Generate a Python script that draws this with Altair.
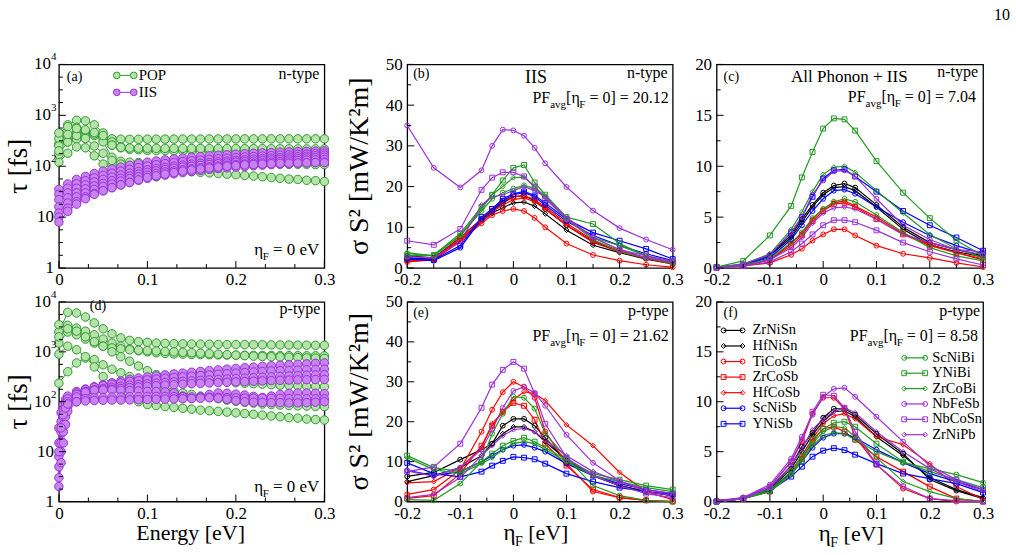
import altair as alt
import pandas as pd

FONT = "Liberation Serif"

NAMES = ["ZrNiSn", "HfNiSn", "TiCoSb", "ZrCoSb", "HfCoSb", "ScNiSb", "YNiSb",
         "ScNiBi", "YNiBi", "ZrCoBi", "NbFeSb", "NbCoSn", "ZrNiPb"]
COLORS = ["#000000", "#000000", "#ff0000", "#ff0000", "#ff0000", "#0000ff", "#0000ff",
          "#229a22", "#229a22", "#229a22", "#9b30d9", "#9b30d9", "#9b30d9"]
SHAPES = ["circle", "diamond", "circle", "square", "diamond", "circle", "square",
          "circle", "square", "diamond", "circle", "square", "diamond"]

ETA = [-0.2, -0.15, -0.1, -0.06, -0.04, -0.02, 0.0, 0.02, 0.04, 0.06, 0.1, 0.15, 0.2, 0.25, 0.3]

# (b) n-type, IIS
PF_B = [
    [3.0, 2.5, 7.5, 12.0, 14.0, 16.0, 17.5, 17.8, 16.5, 14.5, 10.5, 6.5, 4.0, 2.5, 1.2],
    [2.5, 2.2, 7.0, 11.5, 13.5, 14.8, 16.0, 16.2, 15.2, 13.3, 9.3, 5.6, 3.8, 2.2, 1.0],
    [1.5, 2.0, 6.5, 11.0, 13.0, 14.0, 14.5, 14.0, 12.3, 10.0, 6.0, 3.2, 1.8, 0.8, 0.2],
    [2.0, 2.3, 7.5, 12.0, 14.5, 16.5, 17.5, 17.8, 16.8, 15.0, 11.0, 6.8, 4.2, 2.5, 1.2],
    [1.8, 2.0, 7.0, 11.5, 13.8, 15.5, 16.8, 17.2, 16.3, 14.5, 10.5, 6.3, 4.0, 2.3, 1.0],
    [2.2, 1.8, 5.0, 12.0, 14.0, 16.5, 18.0, 18.5, 17.5, 15.5, 11.5, 8.0, 5.5, 3.5, 1.8],
    [2.5, 2.0, 5.5, 12.5, 14.5, 17.0, 18.2, 18.8, 17.8, 16.0, 12.0, 8.7, 6.7, 4.7, 2.2],
    [3.5, 3.0, 8.0, 14.0, 17.0, 18.5, 19.5, 20.3, 19.5, 17.5, 12.0, 7.0, 4.0, 2.5, 1.2],
    [3.0, 3.2, 8.5, 15.0, 18.0, 21.5, 24.6, 25.3, 21.0, 18.0, 12.5, 10.8, 6.0, 3.0, 1.5],
    [3.8, 3.0, 8.0, 14.5, 18.0, 20.0, 22.2, 22.3, 20.0, 17.5, 12.0, 7.5, 5.5, 3.0, 1.3],
    [35.0, 24.6, 19.8, 24.0, 30.0, 34.0, 33.8, 32.5, 29.5, 25.7, 19.9, 14.1, 9.8, 7.0, 4.5],
    [6.7, 5.7, 9.6, 19.2, 22.2, 23.5, 23.5, 22.5, 20.0, 17.0, 12.0, 7.5, 4.5, 3.0, 1.7],
    [2.8, 2.5, 6.5, 15.5, 17.5, 18.0, 19.0, 20.0, 19.0, 17.5, 12.5, 7.5, 4.5, 2.5, 1.5],
]
# (c) n-type, all phonon + IIS
PF_C = [
    [0.1, 0.3, 1.3, 3.2, 4.8, 6.2, 7.4, 8.1, 8.3, 7.9, 6.2, 4.0, 2.5, 1.8, 1.2],
    [0.1, 0.3, 1.2, 3.0, 4.5, 6.0, 7.2, 7.9, 8.0, 7.6, 6.0, 3.8, 2.3, 1.6, 1.1],
    [0.0, 0.2, 0.5, 1.3, 1.9, 2.7, 3.3, 3.8, 3.8, 3.2, 2.2, 1.4, 1.0, 0.5, 0.1],
    [0.1, 0.2, 0.8, 2.2, 3.2, 4.6, 5.6, 6.3, 6.4, 6.0, 4.8, 3.3, 2.2, 1.5, 0.8],
    [0.1, 0.2, 0.8, 2.4, 3.4, 4.8, 5.8, 6.4, 6.6, 6.1, 5.0, 3.4, 2.3, 1.5, 0.9],
    [0.1, 0.3, 1.0, 2.8, 4.2, 5.6, 6.8, 7.6, 7.7, 7.3, 6.0, 4.5, 3.2, 2.2, 1.4],
    [0.1, 0.3, 1.2, 3.5, 5.0, 7.0, 8.8, 9.6, 9.7, 9.0, 7.5, 5.6, 4.2, 3.0, 1.7],
    [0.1, 0.3, 0.9, 2.5, 3.5, 4.9, 5.8, 6.5, 6.8, 6.5, 5.2, 3.5, 2.0, 1.2, 0.7],
    [0.1, 0.7, 3.2, 6.1, 8.9, 11.4, 13.7, 14.7, 14.6, 13.5, 10.5, 7.4, 4.9, 2.7, 1.2],
    [0.1, 0.4, 1.4, 3.8, 5.5, 7.5, 9.2, 9.9, 10.0, 9.4, 7.6, 5.4, 3.3, 1.9, 1.0],
    [0.0, 0.4, 1.3, 3.5, 5.0, 7.2, 8.6, 9.5, 9.6, 9.0, 6.8, 4.2, 2.8, 1.8, 1.3],
    [0.0, 0.2, 0.6, 1.6, 2.4, 3.3, 4.2, 4.7, 4.7, 4.5, 3.7, 2.5, 1.6, 0.9, 0.3],
    [0.0, 0.2, 0.8, 2.0, 3.0, 4.4, 5.4, 5.9, 6.0, 5.8, 4.8, 3.3, 2.5, 1.8, 1.6],
]
# (e) p-type, IIS
PF_E = [
    [6.3, 7.3, 10.5, 13.0, 14.5, 19.0, 20.7, 20.7, 19.0, 16.0, 10.0, 6.5, 4.0, 2.5, 1.5],
    [5.0, 6.5, 8.5, 11.5, 14.5, 17.0, 18.7, 18.7, 17.5, 15.0, 10.5, 6.5, 4.0, 2.5, 1.5],
    [1.8, 3.0, 8.0, 17.5, 23.0, 27.4, 30.0, 28.7, 26.0, 17.5, 9.5, 2.5, 1.0, 0.3, 0.0],
    [0.8, 1.5, 7.0, 14.0, 19.0, 22.5, 24.7, 24.0, 20.5, 14.5, 9.0, 3.0, 1.0, 0.3, 0.0],
    [4.7, 5.0, 8.5, 13.5, 19.5, 22.5, 25.5, 27.5, 27.0, 25.3, 19.2, 14.0, 7.3, 2.5, 0.5],
    [7.8, 6.5, 7.5, 10.0, 11.5, 13.0, 14.0, 14.2, 13.5, 12.5, 9.5, 6.5, 4.5, 3.0, 2.0],
    [9.7, 7.0, 6.2, 7.5, 9.0, 10.2, 11.2, 11.0, 10.6, 9.5, 7.0, 5.0, 3.5, 2.5, 1.8],
    [0.5, 0.3, 4.5, 10.0, 17.0, 22.0, 26.3, 26.0, 23.3, 17.0, 11.0, 4.0, 1.5, 0.3, 0.0],
    [11.5, 8.5, 7.5, 10.0, 12.0, 14.0, 15.2, 16.0, 15.0, 13.5, 10.5, 7.0, 5.5, 4.0, 3.0],
    [11.0, 8.0, 7.0, 9.5, 11.0, 13.0, 14.5, 15.0, 14.5, 13.0, 10.0, 6.5, 5.0, 3.5, 2.5],
    [7.7, 6.4, 8.5, 13.0, 18.0, 23.5, 27.7, 28.8, 27.2, 24.0, 16.7, 9.7, 5.2, 2.5, 1.5],
    [7.5, 8.7, 14.5, 23.5, 29.3, 33.0, 35.0, 33.3, 27.0, 19.5, 11.0, 6.5, 4.0, 2.0, 1.0],
    [1.0, 1.8, 6.0, 11.5, 14.0, 16.5, 18.0, 18.3, 17.5, 15.5, 11.5, 7.5, 5.0, 3.0, 2.0],
]
# (f) p-type, all phonon + IIS
PF_F = [
    [0.1, 0.3, 1.3, 3.6, 5.5, 6.9, 8.4, 9.3, 9.3, 8.7, 6.8, 4.8, 2.2, 1.1, 0.3],
    [0.1, 0.3, 1.2, 3.3, 5.0, 6.7, 8.0, 9.0, 9.1, 8.5, 6.5, 4.6, 2.4, 1.2, 0.4],
    [0.0, 0.4, 1.5, 4.0, 6.0, 8.8, 10.4, 10.4, 9.3, 6.5, 3.7, 1.3, 0.3, 0.0, 0.0],
    [0.0, 0.3, 1.0, 2.8, 4.3, 6.0, 7.3, 7.5, 7.0, 6.2, 4.5, 3.0, 1.5, 0.3, 0.0],
    [0.0, 0.3, 1.1, 3.0, 4.6, 6.3, 7.8, 8.6, 8.8, 8.3, 6.5, 5.7, 3.8, 1.5, 0.2],
    [0.0, 0.3, 1.2, 2.9, 4.0, 5.4, 6.4, 6.8, 6.8, 6.4, 5.2, 3.9, 2.8, 2.0, 1.2],
    [0.0, 0.3, 1.1, 2.5, 3.5, 4.5, 5.1, 5.35, 5.15, 4.7, 3.8, 2.8, 2.3, 1.8, 0.9],
    [0.0, 0.3, 1.0, 2.7, 4.0, 5.6, 6.6, 6.9, 6.8, 6.2, 5.0, 3.9, 3.3, 2.7, 1.9],
    [0.0, 0.3, 1.2, 3.0, 4.6, 6.2, 7.3, 7.9, 8.0, 7.5, 5.8, 4.0, 3.0, 2.2, 1.4],
    [0.0, 0.3, 1.0, 2.8, 4.2, 5.8, 7.0, 7.5, 7.4, 6.5, 4.4, 2.0, 1.0, 0.3, 0.0],
    [0.1, 0.4, 1.7, 4.3, 6.5, 8.7, 10.5, 11.3, 11.4, 10.5, 8.5, 6.0, 3.6, 2.2, 1.2],
    [0.0, 0.3, 1.5, 4.0, 6.2, 9.0, 10.7, 10.6, 9.4, 7.0, 3.7, 1.5, 0.3, 0.1, 0.0],
    [0.0, 0.3, 1.4, 3.6, 5.3, 7.2, 8.3, 9.0, 9.4, 8.9, 7.0, 5.0, 3.3, 2.0, 1.0],
]

E31 = [0.00, 0.01, 0.02, 0.03, 0.04, 0.05, 0.06, 0.07, 0.08, 0.09, 0.10, 0.11, 0.12, 0.13,
       0.14, 0.15, 0.16, 0.17, 0.18, 0.19, 0.20, 0.21, 0.22, 0.23, 0.24, 0.25, 0.26, 0.27,
       0.28, 0.29, 0.30]
E34 = [0.0, 0.0025, 0.005, 0.0075, 0.01, 0.02, 0.03, 0.04, 0.05, 0.06, 0.07, 0.08, 0.09,
       0.10, 0.11, 0.12, 0.13, 0.14, 0.15, 0.16, 0.17, 0.18, 0.19, 0.20, 0.21, 0.22, 0.23,
       0.24, 0.25, 0.26, 0.27, 0.28, 0.29, 0.30]

# (a) n-type relaxation times [fs]
TAU_A_POP = [
    [280, 380, 450, 470, 420, 370, 345, 340, 338, 338, 340, 340, 341, 341, 342, 342, 342, 343, 343, 343, 344, 344, 344, 344, 345, 345, 345, 345, 345, 345, 345],
    [350, 650, 800, 780, 650, 450, 300, 240, 225, 220, 218, 216, 215, 214, 213, 212, 212, 211, 211, 210, 210, 210, 209, 209, 208, 208, 208, 207, 207, 207, 206],
    [450, 600, 580, 500, 400, 330, 260, 230, 215, 210, 205, 203, 202, 201, 200, 200, 199, 199, 198, 198, 197, 197, 196, 196, 195, 195, 195, 194, 194, 194, 193],
    [250, 300, 340, 380, 430, 300, 150, 125, 120, 118, 117, 116, 116, 115, 115, 114, 114, 113, 113, 112, 112, 111, 111, 110, 110, 110, 109, 109, 109, 108, 108],
    [120, 180, 240, 230, 160, 110, 100, 95, 92, 90, 88, 86, 84, 82, 80, 78, 76, 74, 72, 70, 68, 66, 64, 62, 60, 58, 56, 55, 53, 52, 50],
    [170, 300, 400, 350, 250, 180, 130, 110, 95, 80, 68, 62, 75, 90, 100, 105, 108, 110, 112, 113, 114, 115, 116, 117, 118, 118, 119, 119, 120, 120, 120],
    [200, 420, 550, 520, 460, 400, 260, 235, 228, 226, 225, 225, 224, 224, 224, 223, 223, 223, 222, 222, 222, 221, 221, 221, 220, 220, 220, 219, 219, 219, 218],
]
TAU_A_IIS = [
    [35, 45, 55, 63, 72, 80, 88, 96, 104, 112, 120, 127, 133, 139, 145, 150, 155, 160, 164, 168, 172, 176, 180, 183, 186, 189, 192, 194, 196, 198, 200],
    [28, 37, 45, 52, 59, 66, 73, 80, 87, 94, 101, 107, 113, 118, 123, 128, 132, 136, 140, 144, 148, 152, 155, 158, 161, 164, 167, 170, 173, 176, 180],
    [22, 30, 37, 43, 49, 55, 61, 67, 73, 79, 85, 90, 95, 100, 105, 110, 114, 118, 122, 126, 130, 134, 138, 141, 144, 147, 151, 154, 157, 161, 165],
    [16, 24, 30, 36, 41, 46, 52, 58, 64, 70, 76, 81, 86, 91, 96, 100, 104, 108, 112, 116, 120, 123, 126, 129, 132, 135, 138, 141, 144, 147, 150],
    [12, 19, 25, 30, 35, 40, 45, 51, 57, 62, 67, 72, 77, 81, 85, 89, 93, 97, 101, 105, 108, 111, 114, 117, 120, 123, 126, 129, 131, 133, 135],
    [10, 15, 20, 25, 29, 33, 38, 43, 48, 53, 58, 63, 67, 71, 75, 79, 83, 87, 90, 93, 96, 99, 102, 105, 108, 110, 112, 114, 116, 118, 120],
    [8, 13, 18, 23, 28, 33, 38, 43, 48, 54, 60, 65, 70, 75, 80, 84, 88, 92, 96, 100, 103, 106, 108, 110, 112, 114, 115, 116, 117, 118, 118],
]
# (d) p-type relaxation times [fs]
TAU_D_POP = [
    [2500, 6200, 6000, 5000, 3800, 2900, 2300, 1900, 1700, 1600, 1550, 1500, 1480, 1460, 1450, 1440, 1430, 1420, 1410, 1400, 1400, 1395, 1390, 1385, 1380, 1375, 1370, 1365, 1360, 1355, 1350],
    [3500, 3400, 3000, 2600, 2200, 1800, 1500, 1300, 1150, 1050, 1000, 960, 930, 910, 900, 890, 880, 875, 870, 865, 860, 855, 850, 848, 845, 842, 840, 838, 835, 832, 830],
    [1500, 2500, 2200, 1800, 1500, 1300, 1200, 1150, 1100, 1080, 1060, 1040, 1020, 1000, 980, 960, 940, 920, 900, 880, 860, 840, 820, 810, 800, 790, 780, 770, 760, 750, 740],
    [2000, 2900, 2600, 2000, 1600, 1300, 1000, 800, 650, 520, 420, 350, 320, 300, 290, 280, 270, 262, 255, 248, 240, 235, 230, 225, 220, 215, 212, 208, 205, 202, 200],
    [235, 400, 600, 750, 700, 550, 450, 380, 320, 270, 230, 200, 180, 165, 150, 140, 130, 122, 115, 108, 102, 98, 94, 90, 88, 86, 84, 83, 82, 81, 80],
    [900, 1300, 1100, 800, 500, 320, 220, 160, 120, 100, 88, 84, 80, 77, 74, 71, 68, 66, 64, 62, 60, 58, 56, 54, 52, 50, 48, 47, 45, 44, 43],
]
TAU_D_IIS = [
    [30, 60, 90, 110, 130, 160, 180, 200, 220, 240, 260, 280, 300, 315, 330, 345, 360, 375, 390, 405, 420, 435, 450, 465, 480, 495, 510, 525, 540, 550, 560, 575, 590, 600],
    [15, 40, 70, 95, 115, 150, 175, 195, 210, 225, 240, 255, 265, 275, 285, 295, 305, 315, 325, 335, 345, 355, 365, 375, 385, 395, 405, 415, 420, 425, 430, 438, 445, 450],
    [8, 25, 50, 75, 100, 140, 160, 175, 185, 195, 205, 215, 222, 230, 237, 244, 250, 256, 262, 268, 274, 280, 286, 292, 298, 304, 310, 316, 322, 328, 334, 340, 345, 350],
    [5, 15, 35, 60, 90, 120, 145, 160, 170, 178, 185, 192, 198, 204, 210, 215, 220, 225, 230, 234, 238, 242, 246, 250, 254, 258, 262, 266, 269, 272, 275, 277, 279, 280],
    [3, 10, 25, 50, 80, 125, 155, 170, 172, 172, 170, 168, 165, 162, 160, 158, 150, 130, 118, 125, 140, 150, 148, 142, 136, 128, 122, 130, 140, 148, 150, 150, 148, 145],
    [2, 6, 15, 35, 65, 100, 115, 120, 122, 124, 125, 126, 127, 128, 128, 128, 127, 126, 125, 124, 123, 122, 121, 120, 119, 118, 118, 117, 117, 116, 116, 115, 115, 115],
    [10, 30, 55, 75, 90, 100, 104, 106, 107, 108, 108, 109, 110, 111, 112, 113, 114, 115, 116, 118, 120, 118, 112, 105, 100, 98, 97, 96, 96, 95, 95, 96, 98, 100],
]

LOG_V = [1, 10, 100, 1000, 10000]
LOG_BASE = ["1", "10", "10", "10", "10"]
LOG_EXP = ["", "", "2", "3", "4"]

POP_STROKE, POP_FILL = "#2e9b2e", "#b6e3a9"
IIS_STROKE, IIS_FILL = "#9a2fd8", "#c784ee"

ONE = pd.DataFrame({"k": [0]})
LABX = "datum.value == 0 ? '0' : replace(format(datum.value, '.1f'), '\u2212', '-')"

CW = {" ": 0.25, ".": 0.25, "=": 0.564, "[": 0.333, "]": 0.333, "(": 0.333, ")": 0.333,
      "P": 0.556, "F": 0.556, "a": 0.444, "v": 0.5, "g": 0.5, "e": 0.444, "V": 0.722,
      "η": 0.5, "n": 0.5, "t": 0.278, "y": 0.5, "p": 0.5, "-": 0.333}


def tw(s, size):
    return sum(CW.get(ch, 0.5) for ch in s) * size


def txt(s, x, y, size, align="left", baseline="alphabetic", angle=0, color="black"):
    return alt.Chart(ONE).mark_text(
        text=s, font=FONT, fontSize=size, align=align, baseline=baseline,
        angle=angle, color=color).encode(x=alt.value(x), y=alt.value(y))


def rich(parts, x, y, align="left"):
    total = sum(tw(s, sz) for s, sz, _ in parts)
    if align == "right":
        cur = x - total
    elif align == "center":
        cur = x - total / 2
    else:
        cur = x
    out = []
    for s, sz, dy in parts:
        lead = len(s) - len(s.lstrip(" "))
        out.append(txt(s.strip(" "), cur + tw(" " * lead, sz), y + dy, sz))
        cur += tw(s, sz)
    return out


def pf_label(val, x, y):
    return rich([("PF", 16, 0), ("avg", 11, 5), ("[η", 16, 0), ("F", 11, 5),
                 (" = 0] = " + val, 16, 0)], x, y, "right")


def eta_note(x, y):
    return rich([("η", 17, 0), ("F", 11, 5), (" = 0 eV", 17, 0)], x, y, "right")


def eta_title(x, y):
    return rich([("η", 23, 0), ("F", 14, 6), (" [eV]", 22, 0)], x, y, "center")


def ticks(X, Y, xmaj, xmin, ymaj, ymin, H):
    """Inward tick marks; X and Y give the panel's own encodings for field v."""
    out = []
    for vals, L in ((xmaj, 7), (xmin, 4)):
        out.append(alt.Chart(pd.DataFrame({"v": vals})).mark_rule(color="black", strokeWidth=1).encode(
            x=X("v:Q"), y=alt.value(H), y2=alt.value(H - L)))
    for vals, L in ((ymaj, 7), (ymin, 4)):
        out.append(alt.Chart(pd.DataFrame({"v": vals})).mark_rule(color="black", strokeWidth=1).encode(
            y=Y("v:Q"), x=alt.value(0), x2=alt.value(L)))
    return out


def pf_panel(vals, ymax, ystep, W, H, extra):
    rows = [{"name": n, "eta": e, "pf": v}
            for n, s in zip(NAMES, vals) for e, v in zip(ETA, s)]
    df = pd.DataFrame(rows)
    xs = alt.Scale(domain=[-0.2, 0.3], nice=False, zero=False)
    ys = alt.Scale(domain=[0, ymax], nice=False, zero=False)
    xaxis = alt.Axis(values=[-0.2, -0.1, 0, 0.1, 0.2, 0.3], labelExpr=LABX, title="",
                     ticks=False, domain=False, grid=False, labelFlush=False,
                     labelPadding=4, labelOverlap=False)
    yaxis = alt.Axis(values=list(range(0, ymax + 1, ystep)), title="", ticks=False,
                     domain=False, grid=False, labelPadding=5, labelFlush=False,
                     labelOverlap=False)

    def X(f):
        return alt.X(f, scale=xs, axis=xaxis)

    def Y(f):
        return alt.Y(f, scale=ys, axis=yaxis)

    col = alt.Color("name:N", scale=alt.Scale(domain=NAMES, range=COLORS), legend=None)
    shp = alt.Shape("name:N", scale=alt.Scale(domain=NAMES, range=SHAPES), legend=None)
    base = alt.Chart(df).encode(x=X("eta:Q"), y=Y("pf:Q"), color=col)
    lines = base.mark_line(strokeWidth=1.2)
    pts = base.mark_point(filled=False, size=24, strokeWidth=1, opacity=1).encode(shape=shp)
    ymaj = list(range(0, ymax + 1, ystep))
    ymin = [v + ystep / 2 for v in ymaj[:-1]]
    tk = ticks(X, Y, [-0.2, -0.1, 0, 0.1, 0.2, 0.3], [-0.15, -0.05, 0.05, 0.15, 0.25],
               ymaj, ymin, H)
    return alt.layer(lines, pts, *tk, *extra).properties(width=W, height=H)


def tau_panel(pop, iis, gpop, giis, W, H, legend, texts):
    dfp = pd.DataFrame([{"E": e, "tau": t, "c": i} for i, s in enumerate(pop) for e, t in zip(gpop, s)])
    dfi = pd.DataFrame([{"E": e, "tau": t, "c": i} for i, s in enumerate(iis) for e, t in zip(giis, s)])
    xs = alt.Scale(domain=[0, 0.3], nice=False, zero=False)
    ys = alt.Scale(type="log", domain=[1, 10000], nice=False)
    xaxis = alt.Axis(values=[0, 0.1, 0.2, 0.3], labelExpr=LABX, title="", ticks=False,
                     domain=False, grid=False, labelFlush=False, labelPadding=4,
                     labelOverlap=False)

    def X(f):
        return alt.X(f, scale=xs, axis=xaxis)

    def Y(f):
        return alt.Y(f, scale=ys, axis=None)

    layers = []
    for df, stroke, fill in ((dfp, POP_STROKE, POP_FILL), (dfi, IIS_STROKE, IIS_FILL)):
        layers.append(alt.Chart(df).mark_line(color=stroke, strokeWidth=1).encode(
            x=X("E:Q"), y=Y("tau:Q"), detail="c:N"))
        layers.append(alt.Chart(df).mark_point(shape="circle", filled=True, fill=fill,
                                               stroke=stroke, strokeWidth=1, size=72,
                                               opacity=1).encode(x=X("E:Q"), y=Y("tau:Q")))
    lab = pd.DataFrame({"v": LOG_V, "base": LOG_BASE, "exp": LOG_EXP})
    plain = lab[lab["exp"] == ""]
    power = lab[lab["exp"] != ""]
    layers.append(alt.Chart(plain).mark_text(font=FONT, fontSize=17, align="right",
                                             baseline="middle", color="black").encode(
        y=Y("v:Q"), x=alt.value(-5), text="base:N"))
    layers.append(alt.Chart(power).mark_text(font=FONT, fontSize=17, align="right",
                                             baseline="middle", color="black").encode(
        y=Y("v:Q"), x=alt.value(-8), text="base:N"))
    layers.append(alt.Chart(power).mark_text(font=FONT, fontSize=11, align="left",
                                             baseline="middle", dy=-7, color="black").encode(
        y=Y("v:Q"), x=alt.value(-8), text="exp:N"))
    ymin = [10 ** (k + j / 4) for k in range(4) for j in (1, 2, 3)]
    xmin = [k / 30 for k in range(1, 9) if k % 3]
    tk = ticks(X, Y, [0, 0.1, 0.2, 0.3], xmin, LOG_V, ymin, H)
    if legend:
        for yy, stroke, fill, name in ((11, POP_STROKE, POP_FILL, "POP"), (28, IIS_STROKE, IIS_FILL, "IIS")):
            layers.append(alt.Chart(ONE).mark_rule(color=stroke, strokeWidth=1).encode(
                x=alt.value(58), x2=alt.value(75), y=alt.value(yy)))
            for xx in (58, 75):
                layers.append(alt.Chart(ONE).mark_point(shape="circle", filled=True, fill=fill,
                                                        stroke=stroke, strokeWidth=1, size=45,
                                                        opacity=1).encode(x=alt.value(xx), y=alt.value(yy)))
            layers.append(txt(name, 80, yy, 15, baseline="middle"))
    return alt.layer(*layers, *tk, *texts).properties(width=W, height=H)


W0, W1, W2 = 266, 266, 267
H1, H2 = 204, 200

# ---- panel (a)
pa_texts = [txt("(a)", 8, 17, 14), txt("n-type", 261, 15, 16, align="right"),
            *eta_note(261, 191),
            txt("τ [fs]", -40, H1 / 2, 27, align="center", baseline="middle", angle=270)]
pa = tau_panel(TAU_A_POP, TAU_A_IIS, E31, E31, W0, H1, True, pa_texts)

# ---- panel (d)
pd_texts = [txt("(d)", 31, 8, 14), txt("p-type", 262, 12, 16, align="right"),
            *eta_note(261, 190),
            txt("Energy [eV]", 132, 239, 22, align="center"),
            txt("τ [fs]", -40, H2 / 2, 27, align="center", baseline="middle", angle=270)]
pdd = tau_panel(TAU_D_POP, TAU_D_IIS, E31, E34, W0, H2, False, pd_texts)

# ---- panel (b)
pb_extra = [txt("(b)", 6, 14, 14), txt("IIS", 129, 19, 18, align="center"),
            txt("n-type", 261, 14, 16, align="right"), *pf_label("20.12", 262, 39),
            txt("σ S² [mW/K²m]", -47, H1 / 2, 28, align="center", baseline="middle", angle=270)]
pb = pf_panel(PF_B, 50, 10, W1, H1, pb_extra)

# ---- panel (c)
pc_extra = [txt("(c)", 7, 17, 14), txt("All Phonon + IIS", 133, 18, 17, align="center"),
            txt("n-type", 262, 13, 16, align="right"), *pf_label("7.04", 260, 38),
            txt("10", 294, -45, 16, align="right")]
pc = pf_panel(PF_C, 20, 5, W2, H1, pc_extra)

# ---- panel (e)
pe_extra = [txt("(e)", 6, 15, 14), txt("p-type", 262, 14, 16, align="right"),
            *pf_label("21.62", 262, 39), *eta_title(129, 239),
            txt("σ S² [mW/K²m]", -47, H2 / 2, 28, align="center", baseline="middle", angle=270)]
pe = pf_panel(PF_E, 50, 10, W1, H2, pe_extra)

# ---- panel (f) with compound legend
pf_extra = [txt("(f)", 7, 15, 14), txt("p-type", 264, 14, 16, align="right"),
            *pf_label("8.58", 262, 39), *eta_title(135, 240)]
for i, (nm, cl, sh) in enumerate(zip(NAMES, COLORS, SHAPES)):
    if i < 7:
        x0, x1, xt, yy = 7, 26, 36, 28.5 + 15.6 * i
    else:
        x0, x1, xt, yy = 188, 209, 216, 56 + 15.4 * (i - 7)
    pf_extra.append(alt.Chart(ONE).mark_rule(color=cl, strokeWidth=1.2).encode(
        x=alt.value(x0), x2=alt.value(x1), y=alt.value(yy)))
    for xx in (x0, x1):
        pf_extra.append(alt.Chart(ONE).mark_point(shape=sh, filled=False, color=cl, size=24,
                                                  strokeWidth=1, opacity=1).encode(
            x=alt.value(xx), y=alt.value(yy)))
    pf_extra.append(txt(nm, xt, yy, 14.5, baseline="middle"))
pf_ = pf_panel(PF_F, 20, 5, W2, H2, pf_extra)


def spacer(w, h):
    return alt.Chart(ONE).mark_point(opacity=0).encode(
        x=alt.value(0), y=alt.value(0)).properties(width=w, height=h,
                                                    view=alt.ViewBackground(stroke="transparent"))


chart = alt.concat(
    pa, spacer(63, H1), pb, spacer(24, H1), pc,
    pdd, spacer(63, H2), pe, spacer(24, H2), pf_,
    columns=5, spacing={"row": 34, "column": 10}, bounds="flush",
).configure_view(stroke="black", strokeWidth=1.3).configure_axis(
    labelFont=FONT, labelFontSize=17, labelColor="black"
).properties(padding={"left": 4, "top": 5, "right": 5, "bottom": 5}, background="white")

chart.save("out.html", embed_options={"renderer": "svg", "actions": False})
